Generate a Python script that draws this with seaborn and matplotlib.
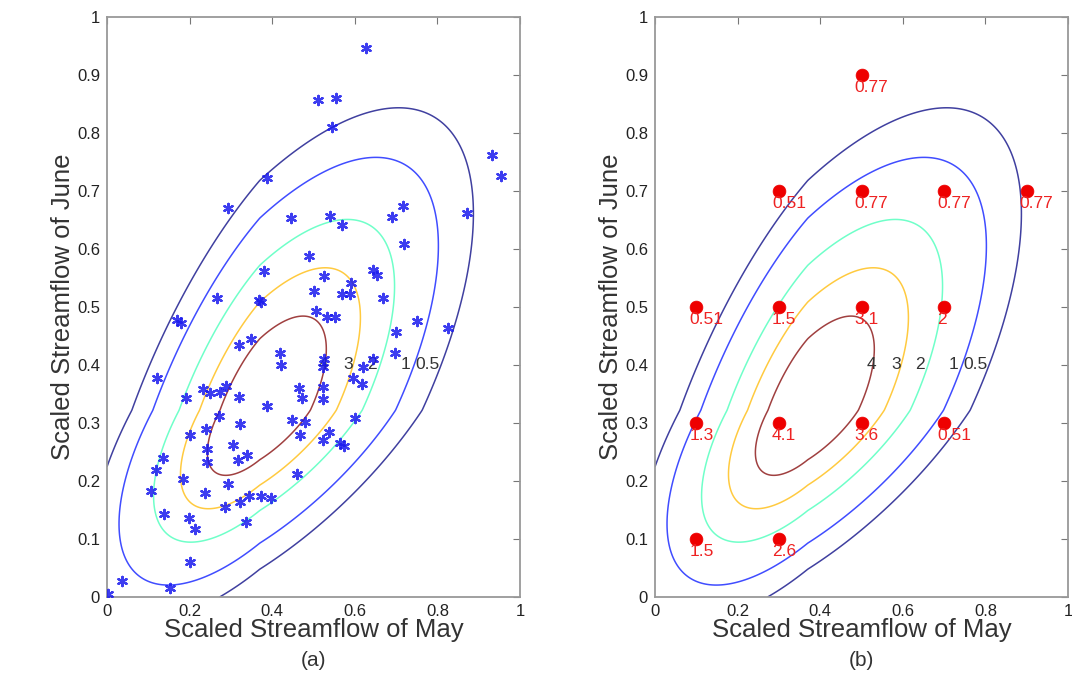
import numpy as np
import pandas as pd
import matplotlib
matplotlib.use("Agg")
import matplotlib.pyplot as plt
import seaborn as sns

# ---------------- data ----------------
may_obs = [0.627, 0.511, 0.554, 0.545, 0.932, 0.954, 0.387, 0.293, 0.717, 0.445,
           0.540, 0.690, 0.872, 0.569, 0.719, 0.490, 0.379, 0.645, 0.653, 0.525,
           0.592, 0.502, 0.266, 0.369, 0.374, 0.568, 0.588, 0.669, 0.506, 0.532,
           0.552, 0.750, 0.170, 0.178, 0.826, 0.700, 0.348, 0.320, 0.419, 0.697,
           0.645, 0.525, 0.421, 0.524, 0.621, 0.120, 0.596, 0.617, 0.466, 0.524,
           0.233, 0.249, 0.274, 0.288, 0.191, 0.320, 0.471, 0.524, 0.387, 0.270,
           0.600, 0.322, 0.447, 0.479, 0.240, 0.538, 0.467, 0.201, 0.522, 0.306,
           0.565, 0.575, 0.241, 0.338, 0.318, 0.136, 0.243, 0.119, 0.461, 0.183,
           0.294, 0.106, 0.237, 0.345, 0.374, 0.396, 0.322, 0.286, 0.138, 0.199,
           0.337, 0.213, 0.201, 0.036, 0.153, 0.003]
june_obs = [0.946, 0.857, 0.860, 0.810, 0.762, 0.726, 0.722, 0.671, 0.674, 0.653,
            0.657, 0.655, 0.662, 0.641, 0.609, 0.588, 0.562, 0.564, 0.555, 0.553,
            0.541, 0.528, 0.516, 0.512, 0.508, 0.522, 0.522, 0.515, 0.493, 0.483,
            0.482, 0.476, 0.478, 0.472, 0.463, 0.457, 0.444, 0.434, 0.421, 0.421,
            0.411, 0.410, 0.400, 0.397, 0.397, 0.377, 0.377, 0.368, 0.360, 0.362,
            0.358, 0.352, 0.354, 0.363, 0.343, 0.344, 0.343, 0.342, 0.329, 0.312,
            0.308, 0.299, 0.306, 0.302, 0.289, 0.285, 0.280, 0.279, 0.271, 0.262,
            0.265, 0.260, 0.256, 0.245, 0.236, 0.240, 0.233, 0.219, 0.212, 0.203,
            0.195, 0.182, 0.179, 0.174, 0.174, 0.170, 0.164, 0.155, 0.143, 0.137,
            0.130, 0.118, 0.061, 0.028, 0.015, 0.006]

grid_may = [0.5, 0.3, 0.5, 0.7, 0.9, 0.1, 0.3, 0.5, 0.7, 0.1, 0.3, 0.5, 0.7, 0.1, 0.3]
grid_june = [0.9, 0.7, 0.7, 0.7, 0.7, 0.5, 0.5, 0.5, 0.5, 0.3, 0.3, 0.3, 0.3, 0.1, 0.1]
grid_labels = ["0.77", "0.51", "0.77", "0.77", "0.77", "0.51", "1.5", "3.1", "2",
               "1.3", "4.1", "3.6", "0.51", "1.5", "2.6"]

# fitted joint density parameters (split-normal margins, correlated)
mode_may, sd_may_low, sd_may_high = 0.37, 0.19, 0.241
mode_june, sd_june_low, sd_june_high = 0.322, 0.168, 0.243
rho = 0.65
peak_density = 5.0
contour_levels = [0.5, 1, 2, 3, 4]
contour_label_text = ["4", "3", "2", "1", "0.5"]

xticks = [0, 0.2, 0.4, 0.6, 0.8, 1]
xticklabels = ["0", "0.2", "0.4", "0.6", "0.8", "1"]
yticks = [0, 0.1, 0.2, 0.3, 0.4, 0.5, 0.6, 0.7, 0.8, 0.9, 1]
yticklabels = ["0", "0.1", "0.2", "0.3", "0.4", "0.5", "0.6", "0.7", "0.8", "0.9", "1"]

# ---------------- density surface ----------------
gx = np.linspace(0, 1, 500)
gy = np.linspace(0, 1, 500)
GX, GY = np.meshgrid(gx, gy)
dx = GX - mode_may
dy = GY - mode_june
z1 = np.where(dx < 0, dx / sd_may_low, dx / sd_may_high)
z2 = np.where(dy < 0, dy / sd_june_low, dy / sd_june_high)
Q = (z1 ** 2 - 2 * rho * z1 * z2 + z2 ** 2) / (1 - rho ** 2)
DENS = peak_density * np.exp(-0.5 * Q)

obs = pd.DataFrame({"May": may_obs, "June": june_obs})
grid = pd.DataFrame({"May": grid_may, "June": grid_june, "label": grid_labels})

# ---------------- plotting ----------------
sns.set_style("white")
plt.rcParams["font.family"] = ["Liberation Sans", "DejaVu Sans"]

fig = plt.figure(figsize=(10.72, 6.73), dpi=100)
W, H = 1072, 673
ax_a = fig.add_axes([107 / W, (H - 597) / H, 413 / W, 580 / H])
ax_b = fig.add_axes([655 / W, (H - 597) / H, 413 / W, 580 / H])

jet = plt.get_cmap("jet")
lev_colors = [jet((l - contour_levels[0]) / (contour_levels[-1] - contour_levels[0]))
              for l in contour_levels]

label_x = [0.524, 0.585, 0.642, 0.722, 0.775]

sns.scatterplot(data=obs, x="May", y="June", ax=ax_a, marker=(6, 2, 0), s=45,
                color="#1a1aee", edgecolor="#1a1aee", linewidth=1.6, alpha=0.85,
                legend=False, zorder=5)
sns.scatterplot(data=grid, x="May", y="June", ax=ax_b, marker="o", s=85,
                color="#ee0000", edgecolor="#ee0000", linewidth=0.5,
                legend=False, zorder=5)
for _, r in grid.iterrows():
    ax_b.text(r["May"] - 0.017, r["June"] - 0.021, r["label"], ha="left",
              va="center", fontsize=12.5, color="#ee2222", zorder=6)

for ax in (ax_a, ax_b):
    ax.contour(GX, GY, DENS, levels=contour_levels, colors=lev_colors,
               linewidths=1.1, alpha=0.75)
    for t, lx in zip(contour_label_text, label_x):
        ax.text(lx, 0.40, t, ha="center", va="center", fontsize=12.5, color="#333333")
    ax.set_xlim(0, 1)
    ax.set_ylim(0, 1)
    ax.set_xticks(xticks)
    ax.set_xticklabels(xticklabels)
    ax.set_yticks(yticks)
    ax.set_yticklabels(yticklabels)
    ax.tick_params(direction="in", length=5, width=0.8, color="#777777",
                   labelsize=12, labelcolor="#222222", top=True, right=True,
                   pad=5)
    for s in ax.spines.values():
        s.set_color("#999999")
        s.set_linewidth(1.3)
    ax.set_xlabel("Scaled Streamflow of May", fontsize=18.5, color="#333333")
    ax.set_ylabel("Scaled Streamflow of June", fontsize=18.5, color="#333333")
    ax.xaxis.set_label_coords(0.5, -0.036)
    ax.yaxis.set_label_coords(-0.078, 0.5)

fig.text((107 + 413 / 2) / W, (H - 660) / H, "(a)", ha="center", va="center",
         fontsize=15, color="#333333")
fig.text((655 + 413 / 2) / W, (H - 660) / H, "(b)", ha="center", va="center",
         fontsize=15, color="#333333")

fig.savefig("out.png", dpi=100)
